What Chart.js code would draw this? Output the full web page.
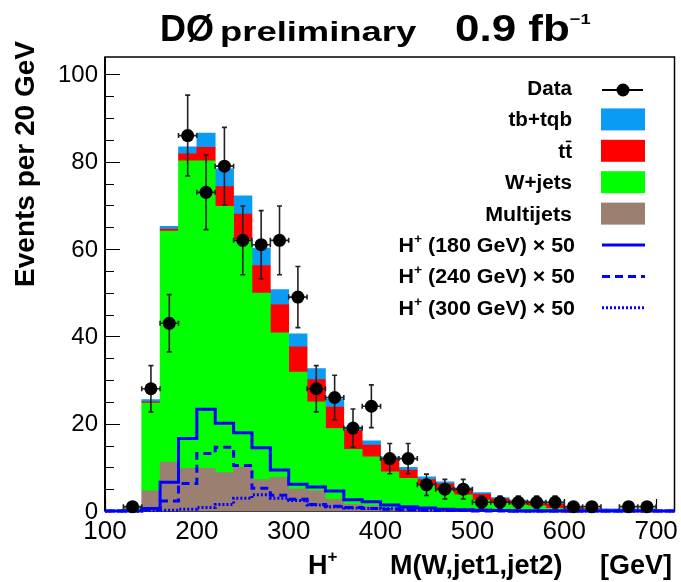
<!DOCTYPE html>
<html><head><meta charset="utf-8">
<script src="https://cdn.jsdelivr.net/npm/chart.js@4/dist/chart.umd.min.js"></script>
<style>html,body{margin:0;padding:0;background:#fff;}#wrap{width:681px;height:582px;}</style>
</head><body><div id="wrap"><canvas id="c" width="681" height="582"></canvas></div>
<script>
// ---------------- data (bins of 20 GeV from 100 to 720) ----------------
const binLow = [100,120,140,160,180,200,220,240,260,280,300,320,340,360,380,400,420,440,460,480,500,520,540,560,580,600,620,640,660,680,700];
const binCenters = [110,130,150,170,190,210,230,250,270,290,310,330,350,370,390,410,430,450,470,490,510,530,550,570,590,610,630,650,670,690,710];
const multijets = [0,0.5,4.6,11.2,9.8,9.8,8.8,10.0,7.2,7.7,5.0,4.7,2.7,1.5,1.2,0.7,0.5,0.5,0.4,0.4,0.3,0.3,0.3,0.3,0.3,0.3,0.3,0.4,0.4,0.4,0];
const wjets = [0,0.3,20.1,52.9,70.4,70.4,61.0,52.2,42.7,33.1,26.8,20.3,16.2,12.6,11.2,8.3,7.0,5.4,4.2,3.3,2.2,1.5,1.1,0.9,0.3,0.1,0,0,0,0,0];
const ttbar = [0,0,0.3,0.5,1.6,3.1,4.5,5.8,6.3,6.5,5.8,5.1,4.9,4.4,2.7,2.8,1.9,1.3,1.6,1.3,1.4,1.0,0.8,0.8,0.9,0.4,0.2,0,0,0,0];
const tbtqb = [0,0,0.5,0.6,1.6,3.3,4.1,4.2,4.0,3.4,3.0,2.5,1.9,0.7,1.0,0.6,0.6,0.6,0.5,0.3,0.3,0.3,0.3,0.3,0.3,0.2,0.1,0.1,0.1,0.1,0];
const hp180 = [0,0,0.6,6.6,16.6,23.3,20.1,17.9,14.5,9.4,6.1,5.5,4.6,2.6,2.1,1.4,1.0,0.7,0.4,0.3,0.2,0.1,0,0,0,0,0,0,0,0,0];
const hp240 = [0,0,0.3,2.3,6.3,13.2,14.6,10.4,5.2,3.6,2.7,1.5,1.1,0.8,0.6,0.4,0.3,0.2,0.1,0.1,0,0,0,0,0,0,0,0,0,0,0];
const hp300 = [0,0,0.1,0.2,0.4,0.8,1.5,2.9,3.7,2.9,2.4,1.4,1.0,0.7,0.6,0.5,0.4,0.3,0.3,0.2,0.2,0.1,0,0,0,0,0,0,0,0,0];
const dataX = [130,150,170,190,210,230,250,270,290,310,330,350,370,390,410,430,450,470,490,510,530,550,570,590,610,630,670,690];
const dataY = [1,28,43,86,73,79,62,61,62,49,28,26,19,24,12,12,6,5,5,2,2,2,2,2,1,1,1,1];
const xTickValues = [100,200,300,400,500,600,700];
const yTickValues = [0,20,40,60,80,100];
const xRange = [100,720];
const yRange = [0,104];

const FONT = '"Liberation Sans", Arial, Helvetica, sans-serif';
const f = (s,b) => (b?'bold ':'') + s + 'px ' + FONT;

const barPts = arr => binCenters.map((x,i)=>({x, y: arr[i]}));
const stepPts = arr => binLow.map((x,i)=>({x, y: arr[i]})).concat([{x: xRange[1], y: arr[arr.length-1]}]);

const COL = {tb:'#0a9bf5', tt:'#ff0000', wj:'#00ff00', mj:'#9b7f70', hp:'#0000ff'};

function drawRich(ctx, segs, x, y, align, sx) {
  let w = 0;
  segs.forEach(s => { ctx.font = f(s.size, s.bold); s.w = ctx.measureText(s.t).width; w += s.w; });
  ctx.save();
  ctx.translate(x, y);
  ctx.scale(sx || 1, 1);
  let cx = align === 'right' ? -w : (align === 'center' ? -w/2 : 0);
  ctx.textAlign = 'left'; ctx.textBaseline = 'alphabetic'; ctx.fillStyle = '#000';
  segs.forEach(s => {
    ctx.font = f(s.size, s.bold);
    ctx.fillText(s.t, cx, s.dy || 0);
    if (s.bar) {
      ctx.fillRect(cx + s.w*0.1, -s.size*0.86, s.w*0.8, 1.6);
    }
    cx += s.w;
  });
  ctx.restore();
}

const decor = {
  id: 'decor',
  beforeDatasetsDraw(chart) {
    const {ctx, chartArea: a, scales: {x, y}} = chart;
    ctx.save();
    ctx.strokeStyle = '#000';
    ctx.lineWidth = 1.2;
    ctx.beginPath();
    for (let v = yRange[0]; v <= 100; v += 5) {
      const py = Math.round(y.getPixelForValue(v)) + 0.5;
      const len = (v % 20 === 0) ? 15 : 9;
      ctx.moveTo(a.left, py); ctx.lineTo(a.left + len, py);
    }
    xTickValues.forEach(v => {
      const px = Math.round(x.getPixelForValue(v)) + 0.5;
      ctx.moveTo(px, a.bottom); ctx.lineTo(px, a.bottom - 12);
    });
    ctx.stroke();
    ctx.lineWidth = 1.5;
    ctx.strokeRect(a.left, a.top, a.right - a.left, a.bottom - a.top);
    ctx.lineWidth = 2;
    ctx.beginPath(); ctx.moveTo(a.left, a.top); ctx.lineTo(a.left, a.bottom); ctx.stroke();
    ctx.restore();
  },
  beforeDatasetDraw(chart, args) {
    if (chart.data.datasets[args.index].label !== 'Data') return;
    const {ctx, scales: {x, y}} = chart;
    ctx.save();
    ctx.strokeStyle = '#222'; ctx.lineWidth = 1.6;
    ctx.beginPath();
    dataX.forEach((xv, i) => {
      const n = dataY[i], e = Math.sqrt(n);
      const px = x.getPixelForValue(xv), py = y.getPixelForValue(n);
      const pt = y.getPixelForValue(n + e), pb = y.getPixelForValue(Math.max(0, n - e));
      const pl = x.getPixelForValue(xv - 10), pr = x.getPixelForValue(xv + 10);
      ctx.moveTo(px, pt); ctx.lineTo(px, pb);
      ctx.moveTo(px - 2.5, pt); ctx.lineTo(px + 2.5, pt);
      if (n - e > 0) { ctx.moveTo(px - 2.5, pb); ctx.lineTo(px + 2.5, pb); }
      ctx.moveTo(pl, py); ctx.lineTo(pr, py);
      ctx.moveTo(pl, py - 2.5); ctx.lineTo(pl, py + 2.5);
      ctx.moveTo(pr, py - 2.5); ctx.lineTo(pr, py + 2.5);
    });
    ctx.stroke();
    ctx.restore();
  },
  afterDraw(chart) {
    const {ctx, chartArea: a, scales: {x, y}} = chart;
    ctx.save();
    ctx.fillStyle = '#000';
    ctx.font = f(24, false); ctx.textAlign = 'right'; ctx.textBaseline = 'middle';
    yTickValues.forEach(v => ctx.fillText(String(v), a.left - 7, y.getPixelForValue(v) + 1));
    ctx.font = f(26, false); ctx.textAlign = 'center'; ctx.textBaseline = 'alphabetic';
    xTickValues.forEach(v => ctx.fillText(String(v), x.getPixelForValue(v), a.bottom + 28));
    drawRich(ctx, [{t:'H', size:27, bold:true}, {t:'+', size:17, bold:true, dy:-12}], 308, 574, 'left');
    drawRich(ctx, [{t:'M(W,jet1,jet2)', size:27, bold:true}], 390, 574, 'left');
    drawRich(ctx, [{t:'[GeV]', size:27, bold:true}], 672, 574, 'right');
    ctx.save();
    ctx.translate(34, 41); ctx.rotate(-Math.PI/2);
    ctx.font = f(28, true); ctx.textAlign = 'right'; ctx.textBaseline = 'alphabetic';
    ctx.fillText('Events per 20 GeV', 0, 0);
    ctx.restore();
    drawRich(ctx, [{t:'DØ', size:36, bold:true}], 160, 41, 'left');
    drawRich(ctx, [{t:'preliminary', size:28, bold:true}], 220, 41, 'left', 1.3);
    drawRich(ctx, [{t:'0.9 fb', size:36, bold:true}, {t:'\u22121', size:15, bold:true, dy:-17}], 455, 41, 'left', 1.22);
    const rows = [
      {segs:[{t:'Data', size:20, bold:true}], sym:'data'},
      {segs:[{t:'tb+tqb', size:20, bold:true}], sym:'box', c:COL.tb},
      {segs:[{t:'t', size:20, bold:true}, {t:'t', size:20, bold:true, bar:true}], sym:'box', c:COL.tt},
      {segs:[{t:'W+jets', size:20, bold:true}], sym:'box', c:COL.wj},
      {segs:[{t:'Multijets', size:20, bold:true}], sym:'box', c:COL.mj},
      {segs:[{t:'H', size:20, bold:true}, {t:'+', size:13, bold:true, dy:-9}, {t:' (180 GeV) \u00d7 50', size:20, bold:true}], sym:'line', dash:[]},
      {segs:[{t:'H', size:20, bold:true}, {t:'+', size:13, bold:true, dy:-9}, {t:' (240 GeV) \u00d7 50', size:20, bold:true}], sym:'line', dash:[8,5]},
      {segs:[{t:'H', size:20, bold:true}, {t:'+', size:13, bold:true, dy:-9}, {t:' (300 GeV) \u00d7 50', size:20, bold:true}], sym:'line', dash:[2,2]},
    ];
    rows.forEach((r, i) => {
      const cy = 88 + i * 31.4;
      drawRich(ctx, r.segs, i >= 5 ? 575 : 572, cy + 7, 'right', i >= 4 ? 1.07 : 1.03);
      if (r.sym === 'box') {
        ctx.fillStyle = r.c; ctx.fillRect(601, cy - 11, 44, 22);
      } else if (r.sym === 'data') {
        ctx.strokeStyle = '#000'; ctx.lineWidth = 2;
        ctx.beginPath(); ctx.moveTo(602, cy + 2); ctx.lineTo(643, cy + 2); ctx.stroke();
        ctx.fillStyle = '#000'; ctx.beginPath(); ctx.arc(623, cy + 2, 6.5, 0, Math.PI*2); ctx.fill();
      } else {
        ctx.strokeStyle = COL.hp; ctx.lineWidth = 3; ctx.setLineDash(r.dash);
        ctx.beginPath(); ctx.moveTo(602, cy); ctx.lineTo(645, cy); ctx.stroke();
        ctx.setLineDash([]);
      }
    });
    ctx.restore();
  }
};

const barDs = (label, arr, color) => ({
  type: 'bar', label, data: barPts(arr), backgroundColor: color, borderWidth: 0,
  barPercentage: 1, categoryPercentage: 1, stack: 'bkg', order: 3
});
const stepDs = (label, arr, dash, key) => ({
  type: 'line', label, data: stepPts(arr), stepped: true, borderColor: COL.hp, borderWidth: 3,
  borderDash: dash, pointRadius: 0, fill: false, stack: key, order: 2, clip: 6, tension: 0
});

new Chart(document.getElementById('c'), {
  data: {
    datasets: [
      barDs('Multijets', multijets, COL.mj),
      barDs('W+jets', wjets, COL.wj),
      barDs('tt', ttbar, COL.tt),
      barDs('tb+tqb', tbtqb, COL.tb),
      stepDs('H+ (180 GeV) x 50', hp180, [], 's1'),
      stepDs('H+ (240 GeV) x 50', hp240, [8,5], 's2'),
      stepDs('H+ (300 GeV) x 50', hp300, [2,2], 's3'),
      { type: 'line', label: 'Data', data: dataX.map((x,i)=>({x, y: dataY[i]})), showLine: false,
        pointRadius: 6.5, pointHoverRadius: 6.5, pointBackgroundColor: '#000', pointBorderWidth: 0,
        stack: 'd', order: 1, clip: 10 }
    ]
  },
  options: {
    responsive: false, animation: false, devicePixelRatio: 1,
    layout: { padding: { left: 105, right: 6, top: 57, bottom: 71 } },
    plugins: { legend: { display: false }, tooltip: { enabled: false } },
    events: [],
    scales: {
      x: { type: 'linear', min: xRange[0], max: xRange[1], stacked: true, display: false, offset: false },
      y: { type: 'linear', min: yRange[0], max: yRange[1], stacked: true, display: false }
    }
  },
  plugins: [decor]
});
</script>
</body></html>
